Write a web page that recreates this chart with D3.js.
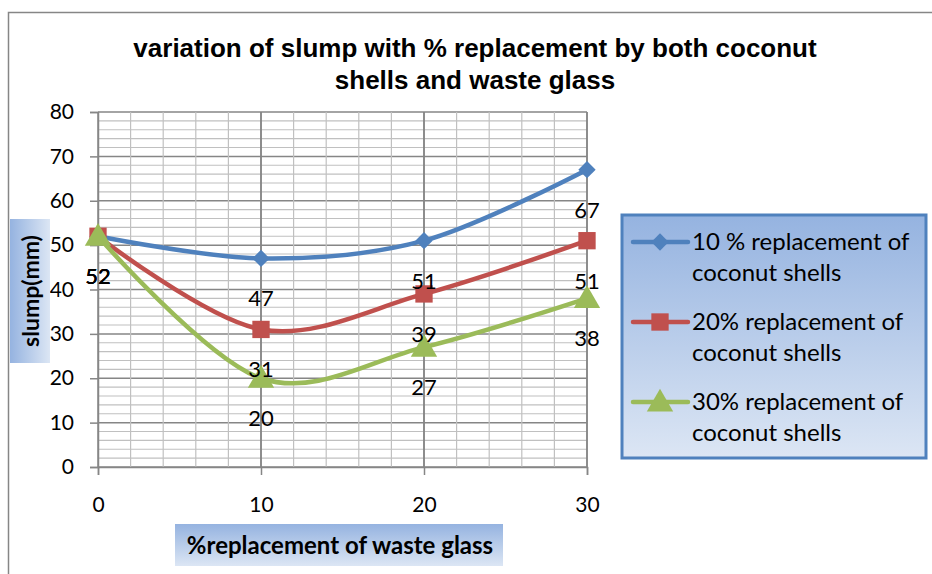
<!DOCTYPE html>
<meta charset="utf-8">
<script src="https://d3js.org/d3.v7.min.js"></script>
<style>
  body { margin: 0; background: #fff; }
  text { font-family: Lato, "Open Sans", sans-serif; }
</style>
<div id="chart"></div>
<script>
// data
var xValues = [0, 10, 20, 30];
var seriesNames = ["10 % replacement of coconut shells",
                   "20% replacement of coconut shells",
                   "30% replacement of coconut shells"];
var slump10 = [52, 47, 51, 67];
var slump20 = [52, 31, 39, 51];
var slump30 = [52, 20, 27, 38];
var yTicks = [0, 10, 20, 30, 40, 50, 60, 70, 80];
var titleLines = ["variation of slump with % replacement by both coconut", "shells and waste glass"];

var colors = ["#4F81BD", "#C0504D", "#9BBB59"];
var shapes = [d3.symbolSquare, d3.symbolSquare, d3.symbolTriangle];
var sizes = [150, 300, 300];
var rotate = [45, 0, 0];
var allSeries = [slump10, slump20, slump30];

var W = 932, H = 574;
var svg = d3.select("#chart").append("svg")
    .attr("width", W).attr("height", H);

var defs = svg.append("defs");
function grad(id, x2, y2, c1, c2) {
  var g = defs.append("linearGradient").attr("id", id)
      .attr("x1", 0).attr("y1", 0).attr("x2", x2).attr("y2", y2);
  g.append("stop").attr("offset", "0%").attr("stop-color", c1);
  g.append("stop").attr("offset", "100%").attr("stop-color", c2);
}
grad("gV", 0, 1, "#95B3E0", "#DCE6F4");
grad("gH", 1, 0, "#95B3E0", "#DCE6F4");

// outer chart frame
svg.append("rect")
    .attr("x", 8.5).attr("y", 12.5).attr("width", 1000).attr("height", 700)
    .attr("fill", "none").attr("stroke", "#868686").attr("stroke-width", 1.5);

var x = d3.scaleLinear().domain([0, 30]).range([98, 587]);
var y = d3.scaleLinear().domain([0, 80]).range([467, 112]);

// grid: minor every 2, major every 10
var grid = svg.append("g");
grid.selectAll(".hminor").data(d3.range(0, 81, 2))
  .enter().append("line")
    .attr("x1", x(0)).attr("x2", x(30))
    .attr("y1", d => y(d)).attr("y2", d => y(d))
    .attr("stroke", d => d % 10 === 0 ? "#868686" : "#C0C0C0")
    .attr("stroke-width", d => d % 10 === 0 ? 1.5 : 1.2);
grid.selectAll(".vminor").data(d3.range(0, 31, 2).concat([10, 20, 30]))
  .enter().append("line")
    .attr("y1", y(0)).attr("y2", y(80))
    .attr("x1", d => x(d)).attr("x2", d => x(d))
    .attr("stroke", d => d % 10 === 0 ? "#868686" : "#C0C0C0")
    .attr("stroke-width", d => d % 10 === 0 ? 1.5 : 1.2);

// axes
var yAxis = svg.append("g")
    .attr("transform", "translate(" + x(0) + ",0)")
    .call(d3.axisLeft(y).tickValues(yTicks).tickSize(8).tickPadding(16));
var xAxis = svg.append("g")
    .attr("transform", "translate(0," + y(0) + ")")
    .call(d3.axisBottom(x).tickValues(xValues).tickSize(8).tickPadding(22));
[xAxis, yAxis].forEach(function(a) {
  a.select(".domain").attr("stroke", "#868686").attr("stroke-width", 1.5);
  a.selectAll(".tick line").attr("stroke", "#868686").attr("stroke-width", 1.5);
  a.selectAll("text").attr("font-size", 21).attr("fill", "#000")
    .style("font-family", "Lato, sans-serif");
});

// lines
var line = d3.line()
    .x((d, i) => x(xValues[i]))
    .y(d => y(d))
    .curve(d3.curveCardinal.tension(0));

function marker(k) {
  return d3.symbol().type(shapes[k]).size(sizes[k])();
}

allSeries.forEach(function(s, k) {
  svg.append("path").datum(s)
      .attr("d", line)
      .attr("fill", "none")
      .attr("stroke", colors[k])
      .attr("stroke-width", 4.5)
      .attr("stroke-linejoin", "round");
  svg.selectAll(".m" + k).data(s).enter().append("path")
      .attr("transform", (d, i) => "translate(" + x(xValues[i]) + "," + (y(d) + (k === 2 ? 2 : 0)) + ") rotate(" + rotate[k] + ")")
      .attr("d", marker(k))
      .attr("fill", colors[k]);
});

// data labels, placed below the points
allSeries.forEach(function(s, k) {
  svg.selectAll(".l" + k).data(s).enter().append("text")
      .attr("x", (d, i) => x(xValues[i]))
      .attr("y", d => y(d) + 48)
      .attr("text-anchor", "middle")
      .attr("font-size", 22)
      .text(d => d);
});

// title
svg.append("text")
    .attr("x", 475).attr("y", 57)
    .attr("text-anchor", "middle")
    .style("font-family", "'Liberation Sans', Arial, sans-serif")
    .attr("font-weight", "bold").attr("font-size", 26)
    .selectAll("tspan").data(titleLines).enter().append("tspan")
    .attr("x", 475).attr("dy", (d, i) => i ? 32 : 0)
    .text(d => d);

// y axis title
svg.append("rect").attr("x", 10).attr("y", 219).attr("width", 40).attr("height", 144)
    .attr("fill", "url(#gH)");
svg.append("text")
    .attr("transform", "translate(39,291) rotate(-90)")
    .attr("text-anchor", "middle")
    .attr("font-weight", "bold").attr("font-size", 23)
    .text("slump(mm)");

// x axis title
svg.append("rect").attr("x", 175).attr("y", 524).attr("width", 328).attr("height", 42)
    .attr("fill", "url(#gV)");
svg.append("text")
    .attr("x", 340).attr("y", 554)
    .attr("text-anchor", "middle")
    .attr("font-weight", "bold").attr("font-size", 24)
    .text("%replacement of waste glass");

// legend
var legend = svg.append("g");
legend.append("rect")
    .attr("x", 622).attr("y", 215).attr("width", 304).attr("height", 243)
    .attr("fill", "url(#gV)").attr("stroke", "#4F81BD").attr("stroke-width", 3);
var item = legend.selectAll(".item").data(seriesNames).enter().append("g")
    .attr("transform", (d, i) => "translate(0," + (242 + i * 80) + ")");
item.append("line")
    .attr("x1", 633).attr("x2", 688)
    .attr("stroke", (d, i) => colors[i]).attr("stroke-width", 4.5)
    .attr("stroke-linecap", "round");
item.append("path")
    .attr("transform", (d, i) => "translate(660," + (i === 2 ? 2 : 0) + ") rotate(" + rotate[i] + ")")
    .attr("d", (d, i) => marker(i))
    .attr("fill", (d, i) => colors[i]);
item.append("text")
    .attr("x", 692).attr("y", 8)
    .attr("font-size", 24)
    .selectAll("tspan").data(d => [d.replace(" coconut shells", ""), "coconut shells"])
    .enter().append("tspan")
    .attr("x", 692).attr("dy", (d, i) => i ? 31 : 0)
    .text(d => d);
</script>
